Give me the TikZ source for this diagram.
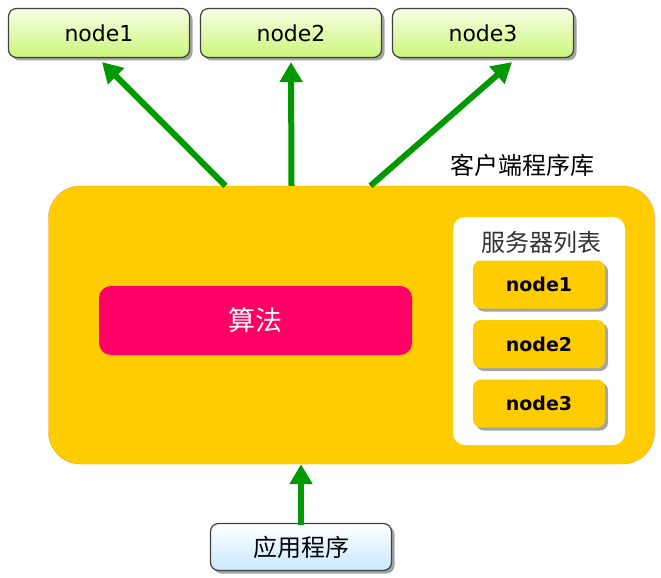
\documentclass[tikz,border=0pt]{standalone}
\usepackage{fontspec}
\setmainfont{DejaVu Sans}
\newfontfamily\cjk{Noto Sans CJK SC}
\usetikzlibrary{arrows.meta,shadows}
\definecolor{libgold}{HTML}{FFCC00}
\definecolor{libedge}{HTML}{FF9933}
\definecolor{algopink}{HTML}{FF0066}
\definecolor{callgreen}{HTML}{009900}
\definecolor{limetop}{HTML}{F6FFE6}
\definecolor{limebottom}{HTML}{CCF57A}
\definecolor{skybottom}{HTML}{C8E8FF}

\begin{document}
\begin{tikzpicture}[x=1pt,y=-1pt]
        \tikzstyle{every node}=[font=\fontsize{22}{26}\selectfont]
        \tikzstyle{shade}=[drop shadow={shadow xshift=3pt,shadow yshift=-3pt,fill=black!60,opacity=.6}]
        \tikzstyle{server}=[shade, draw=black!75, line width=1.2pt, rounded corners=8pt,
            top color=limetop, bottom color=limebottom,
            minimum width=181pt, minimum height=49pt]
        \tikzstyle{entry}=[shade, fill=libgold, rounded corners=8pt, minimum width=132pt,
            minimum height=48pt, font=\fontsize{19}{22}\selectfont\bfseries]
        \tikzstyle{call}=[callgreen, line width=6pt, -{Triangle[length=20pt,width=22pt]}]
        \useasboundingbox (0,0) rectangle (661,578);

        % servers
        \node[server] (node1) at (99,33) {node1};
        \node[server] (node2) at (291,33) {node2};
        \node[server] (node3) at (483,33) {node3};

        % client library
        \node[draw=libedge, fill=libgold, rounded corners=32pt, minimum width=606pt,
            minimum height=278pt] (client) at (351.5,325) {};
        \node[font=\fontsize{24}{28}\selectfont\cjk] (clientlabel) at (522,165) {客户端程序库};
        \node[fill=algopink, text=white, rounded corners=12pt, minimum width=313pt,
            minimum height=69pt, font=\fontsize{27}{30}\selectfont\cjk] (algo) at (255.5,320.5) {算法};
        \node[fill=white, rounded corners=12pt, minimum width=172pt, minimum height=228pt]
            (serverlist) at (539,331) {};
        \node[font=\fontsize{24}{28}\selectfont\cjk, text=black!80] (listlabel) at (541,242) {服务器列表};
        \node[entry] (entry1) at (539,284.5) {node1};
        \node[entry] (entry2) at (539,344) {node2};
        \node[entry] (entry3) at (539,403.5) {node3};

        % application
        \node[server, top color=white, bottom color=skybottom, minimum height=47pt,
            font=\fontsize{24}{28}\selectfont\cjk] (app) at (301,547) {应用程序};

        \draw[call] ([xshift=-126pt]client.north) -- ([xshift=3pt,yshift=-4pt]node1.south);
        \draw[call] ([xshift=-60pt]client.north) -- ([yshift=-4pt]node2.south);
        \draw[call] ([xshift=19pt]client.north) -- ([xshift=29pt,yshift=-4pt]node3.south);
        \draw[call] ([yshift=-2pt]app.north) -- (app.north |- client.south);
\end{tikzpicture}
\end{document}
